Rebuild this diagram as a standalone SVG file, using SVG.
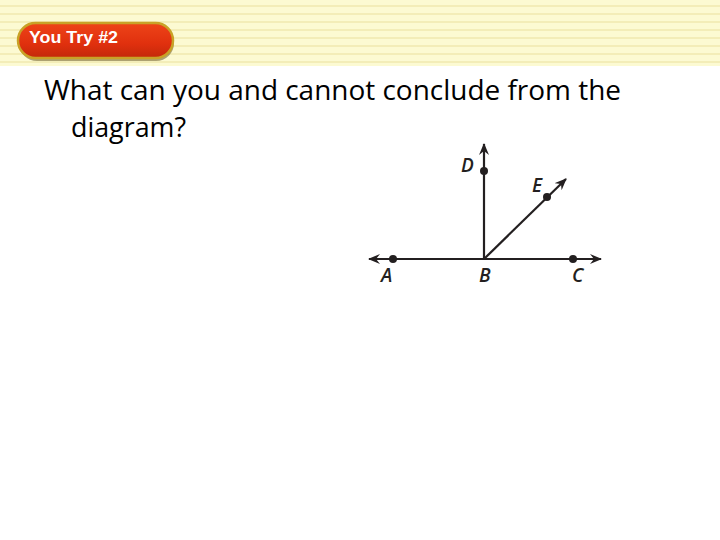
<svg xmlns="http://www.w3.org/2000/svg" width="720" height="540" viewBox="0 0 720 540">
<defs>
<pattern id="stripes" x="0" y="0" width="720" height="8" patternUnits="userSpaceOnUse">
<rect x="0" y="0" width="720" height="8" fill="#FCFAD2"/>
<rect x="0" y="5" width="720" height="2" fill="#F3EDB8"/>
</pattern>
<linearGradient id="btn" x1="0" y1="0" x2="0" y2="1">
<stop offset="0" stop-color="#EE4418"/>
<stop offset="0.6" stop-color="#E0300E"/>
<stop offset="1" stop-color="#C2280A"/>
</linearGradient>
<marker id="arr" viewBox="0 0 12 10" refX="11" refY="5" markerWidth="12" markerHeight="10" markerUnits="userSpaceOnUse" orient="auto">
<path d="M0,0 L12,5 L0,10 L4,5 Z" fill="#231F20"/>
</marker>
<style>
.ray{stroke:#231F20;stroke-width:2.2;fill:none}
.pt{fill:#231F20}
.lbl{font-family:"Open Sans","Liberation Sans",sans-serif;font-style:italic;font-weight:600;font-size:19px;fill:#231F20}
.main{font-family:"Open Sans",Lato,sans-serif;font-size:27px;fill:#000}
</style>
</defs>
<rect width="720" height="540" fill="#FFFFFF"/>
<rect x="0" y="0" width="720" height="66" fill="url(#stripes)"/>
<g id="button">
<rect x="18" y="23" width="155" height="36" rx="18" fill="#5E4A10" opacity="0.5" transform="translate(1,2)"/>
<rect x="18" y="23" width="155" height="35" rx="17.5" fill="url(#btn)" stroke="#C9A227" stroke-width="2.5"/>
<text x="29" y="43" textLength="89" lengthAdjust="spacingAndGlyphs" font-family="Liberation Sans Narrow,Liberation Sans,Arial,sans-serif" font-weight="bold" font-size="17" fill="#FFFFFF">You Try #2</text>
</g>
<g id="question">
<text class="main" x="44" y="100" textLength="577" lengthAdjust="spacingAndGlyphs">What can you and cannot conclude from the</text>
<text class="main" x="71" y="137" textLength="115" lengthAdjust="spacingAndGlyphs">diagram?</text>
</g>
<g id="connectors">
<line class="ray" x1="484" y1="259" x2="369" y2="259" marker-end="url(#arr)"/>
<line class="ray" x1="484" y1="259" x2="601" y2="259" marker-end="url(#arr)"/>
<line class="ray" x1="484" y1="259" x2="484" y2="144" marker-end="url(#arr)"/>
<line class="ray" x1="484" y1="259" x2="566" y2="179" marker-end="url(#arr)"/>
</g>
<g id="A"><circle class="pt" cx="393" cy="259" r="4"/><text class="lbl" x="381" y="282">A</text></g>
<g id="B"><text class="lbl" x="479" y="282">B</text></g>
<g id="C"><circle class="pt" cx="573" cy="259" r="4"/><text class="lbl" x="572" y="282">C</text></g>
<g id="D"><circle class="pt" cx="484" cy="171" r="4"/><text class="lbl" x="461" y="172">D</text></g>
<g id="E"><circle class="pt" cx="547" cy="197" r="4"/><text class="lbl" x="532" y="192">E</text></g>
</svg>
